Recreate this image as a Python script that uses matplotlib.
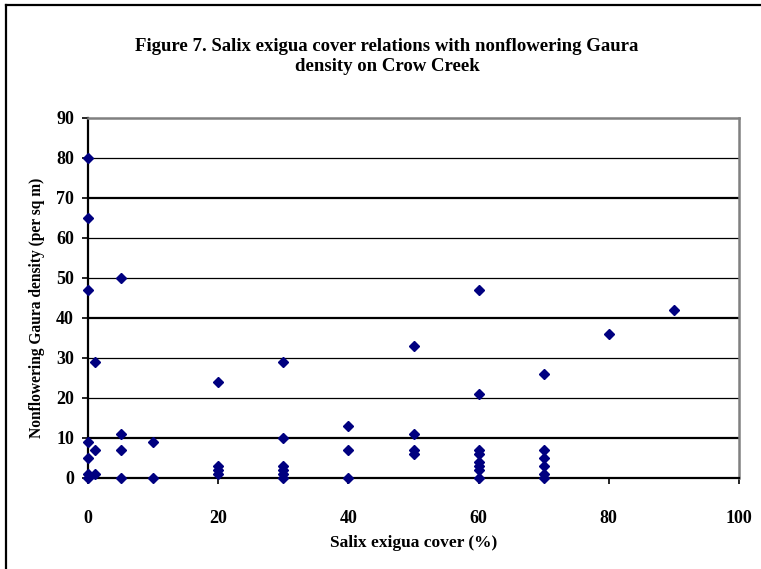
import matplotlib
matplotlib.use("Agg")
import matplotlib.pyplot as plt
from matplotlib.lines import Line2D

# Salix exigua cover (%) and nonflowering Gaura density (per sq m) at each plot
cover = [0, 0, 0, 0, 0, 0, 0,
         1, 1, 1,
         5, 5, 5, 5,
         10, 10,
         20, 20, 20, 20,
         30, 30, 30, 30, 30, 30,
         40, 40, 40,
         50, 50, 50, 50,
         60, 60, 60, 60, 60, 60, 60, 60,
         70, 70, 70, 70, 70, 70,
         80,
         90]
density = [80, 65, 47, 9, 5, 1, 0,
           29, 7, 1,
           50, 11, 7, 0,
           9, 0,
           24, 3, 2, 1,
           29, 10, 3, 2, 1, 0,
           13, 7, 0,
           33, 11, 7, 6,
           47, 21, 7, 6, 4, 3, 2, 0,
           26, 7, 5, 3, 1, 0,
           36,
           42]

x_ticks = [0, 20, 40, 60, 80, 100]
y_ticks = [0, 10, 20, 30, 40, 50, 60, 70, 80, 90]

title = "Figure 7. Salix exigua cover relations with nonflowering Gaura\ndensity on Crow Creek"
x_label = "Salix exigua cover (%)"
y_label = "Nonflowering Gaura density (per sq m)"

W, H = 761, 569
fig = plt.figure(figsize=(W / 100, H / 100), dpi=100)
fig.patch.set_facecolor("white")

serif = ["Liberation Serif", "DejaVu Serif"]

# plot area in pixel terms
left, right, top, bottom = 88, 739, 118, 478
ax = fig.add_axes([left / W, 1 - bottom / H, (right - left) / W, (bottom - top) / H])
ax.set_xlim(0, 100)
ax.set_ylim(0, 90)

# horizontal gridlines (heavier every third one)
for v in y_ticks[1:-1]:
    lw = 1.6 if v in (10, 40, 70) else 0.9
    ax.axhline(v, color="black", lw=lw, zorder=1)

ax.plot(cover, density, linestyle="none", marker="D", markersize=5.2,
        color="#000080", markeredgecolor="#000080", zorder=3, clip_on=False)

for s in ("left", "bottom"):
    ax.spines[s].set_color("black")
    ax.spines[s].set_linewidth(1.6)
for s in ("top", "right"):
    ax.spines[s].set_color("#808080")
    ax.spines[s].set_linewidth(1.8)

ax.set_xticks(x_ticks)
ax.set_yticks(y_ticks)
ax.tick_params(axis="both", direction="out", length=4, width=1.2, color="black")
ax.tick_params(axis="x", pad=19)
ax.tick_params(axis="y", pad=6)
for lab in ax.get_xticklabels() + ax.get_yticklabels():
    lab.set_fontfamily(serif)
    lab.set_fontweight("bold")
    lab.set_fontsize(13)

fig.text(387 / W, 1 - 56.5 / H, title, ha="center", va="center",
         fontfamily=serif, fontweight="bold", fontsize=13.5, linespacing=1.22)
fig.text(414 / W, 1 - 543 / H, x_label, ha="center", va="center",
         fontfamily=serif, fontweight="bold", fontsize=12.5)
fig.text(37 / W, 1 - 308 / H, y_label, ha="center", va="center", rotation=90,
         fontfamily=serif, fontweight="bold", fontsize=11.2)

# outer chart frame
fig.add_artist(Line2D([6 / W, 6 / W], [0, 1 - 5 / H], transform=fig.transFigure,
                      color="black", lw=1.6))
fig.add_artist(Line2D([6 / W, 1], [1 - 5 / H, 1 - 5 / H], transform=fig.transFigure,
                      color="black", lw=1.6))

fig.savefig("out.png", dpi=100, facecolor="white")
